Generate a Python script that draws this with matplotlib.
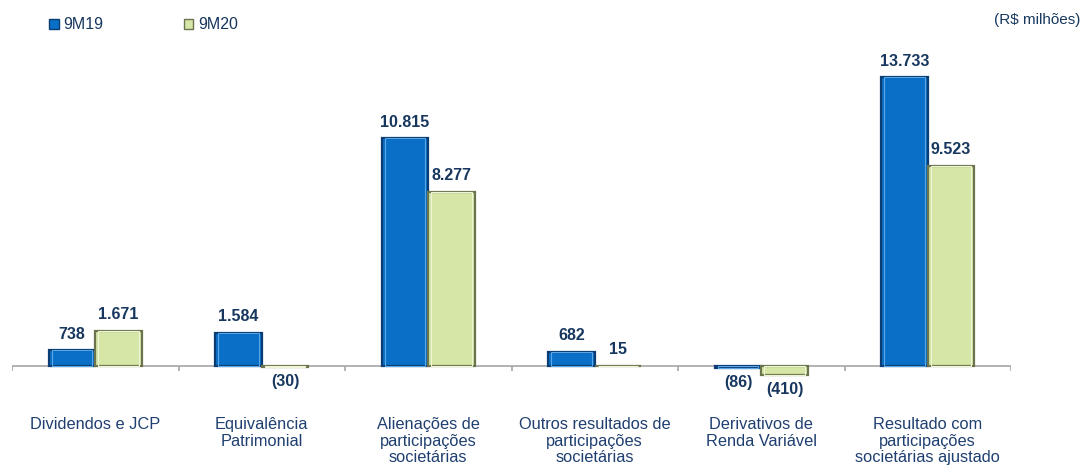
import matplotlib.pyplot as plt
import matplotlib.patches as mpatches
import numpy as np

categories = ['Dividendos e JCP', 'Equivalência\nPatrimonial', 'Alienações de\nparticipações\nsocietárias',
              'Outros resultados de\nparticipações\nsocietárias', 'Derivativos de\nRenda Variável',
              'Resultado com\nparticipações\nsocietárias ajustado']
v_9m19 = [738, 1584, 10815, 682, -86, 13733]
v_9m20 = [1671, -30, 8277, 15, -410, 9523]
labels_9m19 = ['738', '1.584', '10.815', '682', '(86)', '13.733']
labels_9m20 = ['1.671', '(30)', '8.277', '15', '(410)', '9.523']

plt.rcParams['font.family'] = ['Liberation Sans', 'DejaVu Sans']
navy = '#17375e'
lab_col = '#1f3f70'
blue, blue_edge, blue_hi = '#0a6fc6', '#093d73', '#5aa6e6'
green, green_edge, green_hi = '#d5e6a6', '#6b744c', '#eef5d6'

fig = plt.figure(figsize=(10.85, 4.70), dpi=100)
ax = fig.add_axes([12 / 1085, 70 / 470, 999 / 1085, 350 / 470])

x = np.arange(len(categories))
w = 0.281
off = 0.14

for vals, pos, fc, ec, hc in [(v_9m19, x - off, blue, blue_edge, blue_hi),
                              (v_9m20, x + off, green, green_edge, green_hi)]:
    ax.bar(pos, vals, w, color=fc, edgecolor=ec, linewidth=1.6, zorder=3)
    ax.bar(pos, vals, w * 0.86, color='none', edgecolor=hc, linewidth=0.8, zorder=4)

ax.set_xlim(-0.5, len(categories) - 0.5)
ax.set_ylim(-1615, 15010)
ax.axis('off')
ax.axhline(0, color='#a6a6a6', lw=1.2, zorder=2)
bounds = np.arange(len(categories) + 1) - 0.5
ax.vlines(bounds, -250, 0, color='#a6a6a6', lw=1.2, zorder=2)

for vals, labs, pos in [(v_9m19, labels_9m19, x - off), (v_9m20, labels_9m20, x + off)]:
    for v, t, p in zip(vals, labs, pos):
        if v >= 0:
            ax.annotate(t, (p, v), xytext=(0, 6), textcoords='offset points',
                        ha='center', va='bottom', fontsize=11.5, fontweight='bold', color=navy)
        else:
            ax.annotate(t, (p, v), xytext=(0, -5), textcoords='offset points',
                        ha='center', va='top', fontsize=11.5, fontweight='bold', color=navy)

for i, c in enumerate(categories):
    ax.annotate(c, (i, 0), xytext=(0, -37), textcoords='offset points',
                ha='center', va='top', fontsize=11.8, color=lab_col, linespacing=1.12)

h1 = mpatches.Patch(facecolor=blue, edgecolor=blue_edge)
h2 = mpatches.Patch(facecolor=green, edgecolor=green_edge)
fig.legend([h1, h2], ['9M19', '9M20'], loc='upper left', bbox_to_anchor=(35 / 1085, 1 - 3 / 470),
           ncol=2, frameon=False, handlelength=0.6, handleheight=0.6, handletextpad=0.3,
           columnspacing=5.0, fontsize=11.5, labelcolor=navy)
fig.text(1080 / 1085, 1 - 20 / 470, '(R$ milhões)', ha='right', va='center', fontsize=11, color=navy)

fig.savefig('out.png', dpi=100)
